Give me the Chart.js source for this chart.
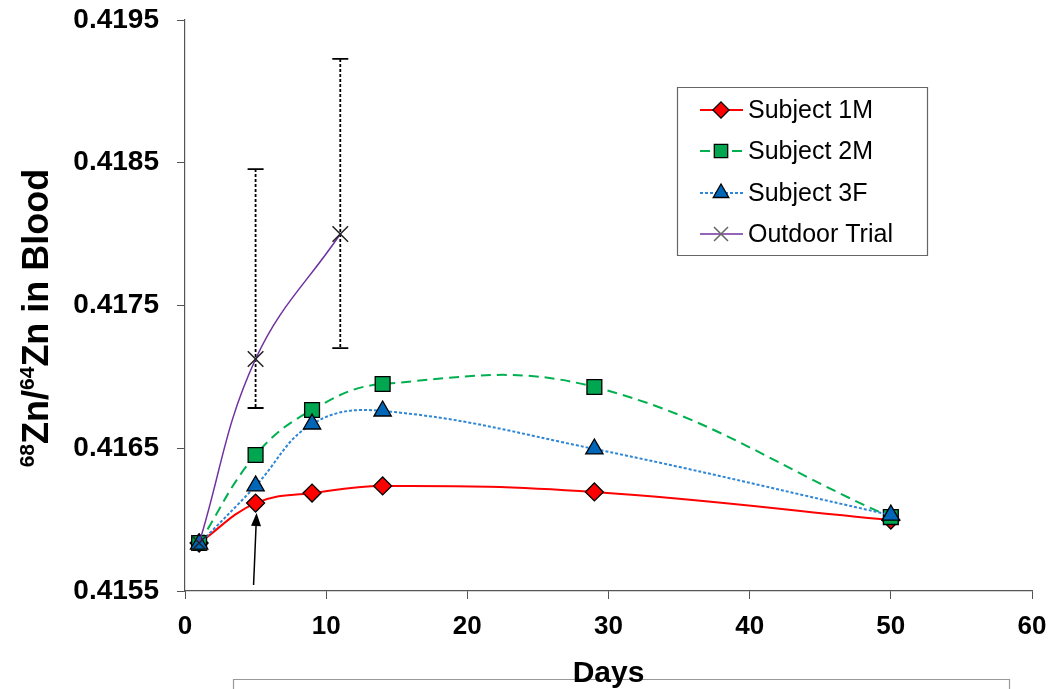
<!DOCTYPE html>
<html>
<head>
<meta charset="utf-8">
<script src="https://cdn.jsdelivr.net/npm/chart.js@4/dist/chart.umd.min.js"></script>
<style>
html,body{margin:0;padding:0;background:#fff;}
#c{display:block;}
</style>
</head>
<body>
<canvas id="c" width="1058" height="689"></canvas>
<script>
// ---- data ----
const subjectDays = [1, 5, 9, 14, 29, 50];
const subject1M = [0.415836, 0.416116, 0.416186, 0.416236, 0.416194, 0.415997];
const subject2M = [0.415836, 0.416453, 0.416768, 0.416950, 0.416929, 0.416018];
const subject3F = [0.415829, 0.416236, 0.416670, 0.416761, 0.416495, 0.416032];
const outdoorDays = [1, 5, 11];
const outdoorTrial = [0.415836, 0.417125, 0.418001];
const outdoorErrHigh = [null, 0.418456, 0.419227];
const outdoorErrLow = [null, 0.416782, 0.417202];
const yTicks = [0.4155, 0.4165, 0.4175, 0.4185, 0.4195];
const xTicks = [0, 10, 20, 30, 40, 50, 60];
const seriesNames = ['Subject 1M', 'Subject 2M', 'Subject 3F', 'Outdoor Trial'];
const arrowDay = 5;

const FONT = "'Liberation Sans', Arial, sans-serif";
const pts = (xs, ys) => xs.map((x, i) => ({x: x, y: ys[i]}));

const datasets = [
  {label: seriesNames[0], data: pts(subjectDays, subject1M), borderColor: '#FF0000', borderWidth: 2,
   pointStyle: 'rectRot', pointRadius: 9, pointBackgroundColor: '#FF0000', pointBorderColor: '#000', pointBorderWidth: 1.3, order: 4},
  {label: seriesNames[1], data: pts(subjectDays, subject2M), borderColor: '#00B050', borderWidth: 2, borderDash: [10, 6],
   pointStyle: 'rect', pointRadius: 10.5, pointBackgroundColor: '#00A650', pointBorderColor: '#000', pointBorderWidth: 1.3, order: 3},
  {label: seriesNames[2], data: pts(subjectDays, subject3F), borderColor: '#2E86D6', borderWidth: 2, borderDash: [3, 2],
   pointStyle: 'triangle', pointRadius: 10, pointBackgroundColor: '#0066B8', pointBorderColor: '#000', pointBorderWidth: 1.3, order: 2},
  {label: seriesNames[3], data: pts(outdoorDays, outdoorTrial), borderColor: '#7030A0', borderWidth: 1.5,
   pointStyle: 'crossRot', pointRadius: 11, pointBackgroundColor: '#222', pointBorderColor: '#222', pointBorderWidth: 1.5, order: 1}
];

function drawMarker(ctx, style, x, y, r, fill, stroke, lw) {
  ctx.save();
  ctx.fillStyle = fill; ctx.strokeStyle = stroke; ctx.lineWidth = lw; ctx.setLineDash([]);
  ctx.beginPath();
  if (style === 'rectRot') {
    ctx.moveTo(x, y - r); ctx.lineTo(x + r, y); ctx.lineTo(x, y + r); ctx.lineTo(x - r, y); ctx.closePath();
    ctx.fill(); ctx.stroke();
  } else if (style === 'rect') {
    const s = r * Math.SQRT1_2;
    ctx.rect(x - s, y - s, 2 * s, 2 * s); ctx.fill(); ctx.stroke();
  } else if (style === 'triangle') {
    for (let k = 0; k < 3; k++) {
      const a = k * 2 * Math.PI / 3;
      const px = x + Math.sin(a) * r, py = y - Math.cos(a) * r;
      if (k === 0) ctx.moveTo(px, py); else ctx.lineTo(px, py);
    }
    ctx.closePath(); ctx.fill(); ctx.stroke();
  } else if (style === 'crossRot') {
    const s = r * Math.SQRT1_2;
    ctx.strokeStyle = '#666';
    ctx.moveTo(x - s, y - s); ctx.lineTo(x + s, y + s);
    ctx.moveTo(x + s, y - s); ctx.lineTo(x - s, y + s); ctx.stroke();
  }
  ctx.restore();
}

const extras = {
  id: 'extras',
  beforeDraw(chart) {
    const ctx = chart.ctx;
    ctx.save();
    ctx.fillStyle = '#fff';
    ctx.fillRect(0, 0, chart.width, chart.height);
    // framed box below the axis title
    ctx.strokeStyle = '#999'; ctx.lineWidth = 1.2;
    ctx.fillStyle = '#fff';
    ctx.beginPath(); ctx.rect(233.5, 679.5, 776, 30); ctx.fill(); ctx.stroke();
    ctx.restore();
  },
  beforeDatasetsDraw(chart) {
    const ctx = chart.ctx, xs = chart.scales.x, ys = chart.scales.y;
    ctx.save();
    ctx.strokeStyle = '#000'; ctx.lineWidth = 1.8;
    outdoorDays.forEach((d, i) => {
      if (outdoorErrHigh[i] == null) return;
      const x = xs.getPixelForValue(d);
      const yh = ys.getPixelForValue(outdoorErrHigh[i]);
      const yl = ys.getPixelForValue(outdoorErrLow[i]);
      ctx.setLineDash([3, 2]);
      ctx.beginPath(); ctx.moveTo(x, yh); ctx.lineTo(x, yl); ctx.stroke();
      ctx.setLineDash([]);
      ctx.beginPath();
      ctx.moveTo(x - 8, yh); ctx.lineTo(x + 8, yh);
      ctx.moveTo(x - 8, yl); ctx.lineTo(x + 8, yl);
      ctx.stroke();
    });
    ctx.restore();
  },
  afterDraw(chart) {
    const ctx = chart.ctx, xs = chart.scales.x, ys = chart.scales.y, ca = chart.chartArea;
    ctx.save();
    // arrow pointing at the first treatment point
    const i5 = subjectDays.indexOf(arrowDay);
    const tipX = xs.getPixelForValue(arrowDay) + 1;
    const tipY = ys.getPixelForValue(subject1M[i5]) + 10;
    const tailX = xs.getPixelForValue(arrowDay) - 2;
    const tailY = ca.bottom - 6;
    const ang = Math.atan2(tipY - tailY, tipX - tailX);
    ctx.strokeStyle = '#000'; ctx.fillStyle = '#000'; ctx.lineWidth = 1.5;
    ctx.beginPath(); ctx.moveTo(tailX, tailY);
    ctx.lineTo(tipX - 10 * Math.cos(ang), tipY - 10 * Math.sin(ang)); ctx.stroke();
    ctx.beginPath();
    ctx.moveTo(tipX, tipY);
    ctx.lineTo(tipX - 13 * Math.cos(ang) + 5 * Math.sin(ang), tipY - 13 * Math.sin(ang) - 5 * Math.cos(ang));
    ctx.lineTo(tipX - 13 * Math.cos(ang) - 5 * Math.sin(ang), tipY - 13 * Math.sin(ang) + 5 * Math.cos(ang));
    ctx.closePath(); ctx.fill();

    // legend
    const lx = 677.5, ly = 87.5, lw = 250, lh = 168;
    ctx.fillStyle = '#fff'; ctx.strokeStyle = '#666'; ctx.lineWidth = 1.2;
    ctx.beginPath(); ctx.rect(lx, ly, lw, lh); ctx.fill(); ctx.stroke();
    const rowY = [110, 151, 193, 234];
    ctx.font = "25px " + FONT; ctx.textBaseline = 'middle'; ctx.textAlign = 'left';
    chart.data.datasets.forEach((ds, i) => {
      const y = rowY[i];
      ctx.save();
      ctx.strokeStyle = ds.borderColor; ctx.lineWidth = ds.borderWidth;
      ctx.setLineDash(ds.borderDash || []);
      ctx.beginPath(); ctx.moveTo(700, y); ctx.lineTo(743, y); ctx.stroke();
      ctx.restore();
      drawMarker(ctx, ds.pointStyle, 721, y, ds.pointRadius * 0.9, ds.pointBackgroundColor, ds.pointBorderColor, ds.pointBorderWidth);
      ctx.fillStyle = '#000';
      ctx.fillText(ds.label, 748, y + 1);
    });

    // y axis title with superscripts
    ctx.translate(48, 318);
    ctx.rotate(-Math.PI / 2);
    const parts = [['68', true], ['Zn/', false], ['64', true], ['Zn in Blood', false]];
    const big = "bold 36px " + FONT, small = "bold 21px " + FONT;
    let total = 0;
    parts.forEach(p => { ctx.font = p[1] ? small : big; total += ctx.measureText(p[0]).width; });
    let x = -total / 2;
    ctx.textBaseline = 'alphabetic'; ctx.fillStyle = '#000';
    parts.forEach(p => {
      ctx.font = p[1] ? small : big;
      ctx.fillText(p[0], x, p[1] ? -14 : 0);
      x += ctx.measureText(p[0]).width;
    });
    ctx.restore();
  }
};

new Chart(document.getElementById('c'), {
  type: 'line',
  data: {datasets: datasets},
  options: {
    responsive: false,
    animation: false,
    devicePixelRatio: 1,
    layout: {padding: {left: 0, right: 26, top: 20, bottom: 0}},
    elements: {line: {tension: 0.4, fill: false}},
    plugins: {legend: {display: false}, tooltip: {enabled: false}},
    scales: {
      x: {
        type: 'linear', min: 0, max: 60,
        afterBuildTicks: s => { s.ticks = xTicks.map(v => ({value: v})); },
        afterFit: s => { s.height = 98; s.paddingLeft = 0; s.paddingRight = 0; },
        grid: {drawOnChartArea: false, drawTicks: true, tickLength: 8, color: '#555'},
        border: {display: true, color: '#555', width: 1.2},
        ticks: {font: {family: FONT, size: 26, weight: 'bold'}, color: '#000', padding: 12, maxRotation: 0},
        title: {display: true, text: 'Days', color: '#000', font: {family: FONT, size: 30, weight: 'bold', lineHeight: 1}, padding: {top: 0, bottom: 0}}
      },
      y: {
        type: 'linear', min: 0.4155, max: 0.4195,
        afterBuildTicks: s => { s.ticks = yTicks.map(v => ({value: v})); },
        afterFit: s => { s.width = 185; s.paddingTop = 0; s.paddingBottom = 0; },
        grid: {drawOnChartArea: false, drawTicks: true, tickLength: 8, color: '#555'},
        border: {display: true, color: '#555', width: 1.2},
        ticks: {font: {family: FONT, size: 28, weight: 'bold'}, color: '#000', padding: 18,
                callback: v => Number(v).toFixed(4)}
      }
    }
  },
  plugins: [extras]
});
</script>
</body>
</html>
